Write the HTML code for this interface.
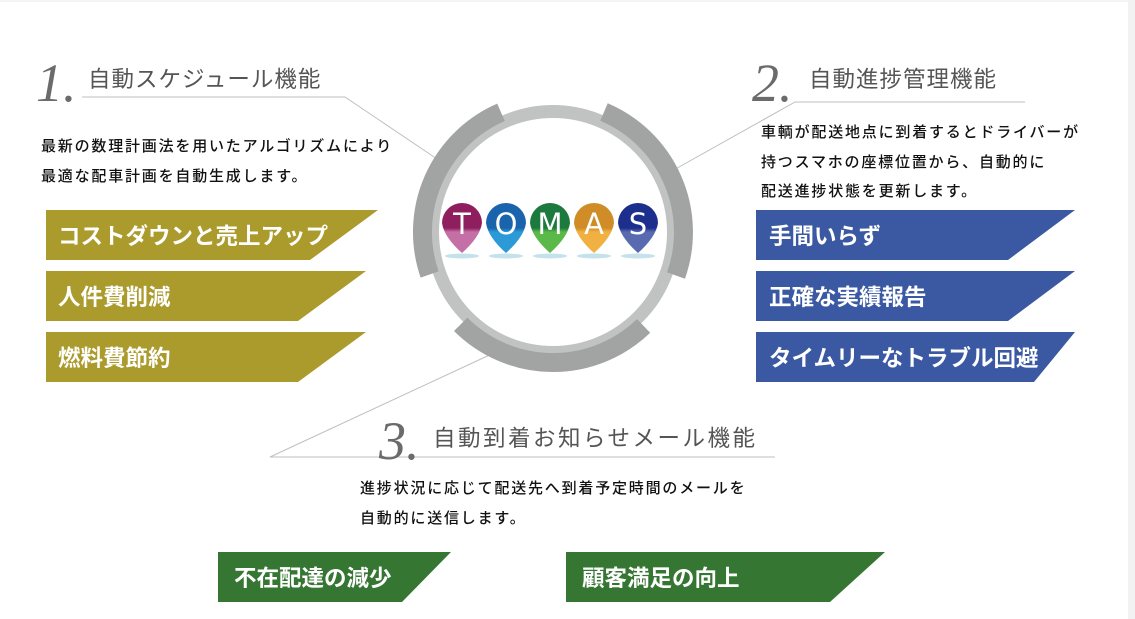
<!DOCTYPE html>
<html><head><meta charset="utf-8"><style>
html,body{margin:0;padding:0;}
body{width:1135px;height:619px;position:relative;background:#fff;overflow:hidden;font-family:"Liberation Sans","Noto Sans CJK JP",sans-serif;}
.edge{position:absolute;left:1128px;top:0;width:7px;height:619px;background:#f2f2f2;}
.edgeT{position:absolute;left:0;top:0;width:1135px;height:2px;background:#f4f4f4;}
.num{position:absolute;font-family:"Liberation Serif",serif;font-style:italic;font-size:54px;color:#6b6b6b;line-height:1;}
.ttl{position:absolute;font-size:22.5px;color:#555;line-height:1;white-space:nowrap;letter-spacing:1px;}
.body{position:absolute;font-size:15px;color:#111;line-height:29.5px;white-space:nowrap;letter-spacing:1.8px;font-weight:500;}
.bt{position:absolute;color:#fff;font-weight:bold;font-size:22.5px;line-height:1;white-space:nowrap;}
</style></head><body>
<div class="edgeT"></div><div class="edge"></div>
<svg width="1135" height="619" style="position:absolute;left:0;top:0">
<g stroke="#bfbfbf" stroke-width="1" fill="none">
<polyline points="82,97 345,97 443,163"/>
<polyline points="1025,102 795,102 663,176"/>
<polyline points="775,457 270,457 496,352"/>
</g>
<circle cx="553" cy="232" r="120.5" fill="#fff" stroke="#c1c3c3" stroke-width="13"/>
<g fill="none" stroke="#a2a3a3" stroke-width="19">
<path d="M 429.6 274.5 A 130.5 130.5 0 0 1 501 112.3"/>
<path d="M 604 112 A 130.5 130.5 0 0 1 676 275.6"/>
<path d="M 643.6 325.9 A 130.5 130.5 0 0 1 460.7 324.3"/>
</g>
<g font-family="DejaVu Sans, sans-serif" font-size="29" fill="#fff" text-anchor="middle">
<defs>
<linearGradient id="g1" x1="0" y1="0" x2="0" y2="1"><stop offset="0.5" stop-color="#8e1e5e"/><stop offset="0.58" stop-color="#c46fa5"/></linearGradient>
<linearGradient id="g2" x1="0" y1="0" x2="0" y2="1"><stop offset="0.5" stop-color="#1a63ad"/><stop offset="0.58" stop-color="#2b9ad6"/></linearGradient>
<linearGradient id="g3" x1="0" y1="0" x2="0" y2="1"><stop offset="0.5" stop-color="#1d7a3e"/><stop offset="0.58" stop-color="#5ab948"/></linearGradient>
<linearGradient id="g4" x1="0" y1="0" x2="0" y2="1"><stop offset="0.5" stop-color="#cf8c27"/><stop offset="0.58" stop-color="#f0b142"/></linearGradient>
<linearGradient id="g5" x1="0" y1="0" x2="0" y2="1"><stop offset="0.5" stop-color="#1c2f8c"/><stop offset="0.58" stop-color="#5a6ab0"/></linearGradient>
</defs>
<g fill="#b6dbe8" opacity="0.8">
<ellipse cx="462" cy="256" rx="17" ry="2.5"/><ellipse cx="506" cy="256" rx="17" ry="2.5"/><ellipse cx="550" cy="256" rx="17" ry="2.5"/><ellipse cx="594" cy="256" rx="17" ry="2.5"/><ellipse cx="638" cy="256" rx="17" ry="2.5"/>
</g>
<path d="M442 223 A20 20 0 1 1 482 223 Q480 237 462 253 Q444 237 442 223Z" fill="url(#g1)"/>
<path d="M486 223 A20 20 0 1 1 526 223 Q524 237 506 253 Q488 237 486 223Z" fill="url(#g2)"/>
<path d="M530 223 A20 20 0 1 1 570 223 Q568 237 550 253 Q532 237 530 223Z" fill="url(#g3)"/>
<path d="M574 223 A20 20 0 1 1 614 223 Q612 237 594 253 Q576 237 574 223Z" fill="url(#g4)"/>
<path d="M618 223 A20 20 0 1 1 658 223 Q656 237 638 253 Q620 237 618 223Z" fill="url(#g5)"/>
<text x="462" y="234">T</text><text x="506" y="234">O</text><text x="550" y="234">M</text><text x="594" y="234">A</text><text x="638" y="234">S</text>
</g>
<g fill="#ab9a2c">
<polygon points="46,210 378,210 310,260 46,260"/>
<polygon points="46,271 366,271 298,321 46,321"/>
<polygon points="46,332 366,332 298,382 46,382"/>
</g>
<g fill="#3b59a3">
<polygon points="756,210 1075,210 1008,260 756,260"/>
<polygon points="756,271 1075,271 1008,321 756,321"/>
<polygon points="756,332 1075,332 1034,382 756,382"/>
</g>
<g fill="#367633">
<polygon points="218,552 451,552 402,602 218,602"/>
<polygon points="566,552 885,552 830,602 566,602"/>
</g>
</svg>
<div class="num" style="left:36px;top:56px">1.</div>
<div class="ttl" style="left:88px;top:69px">自動スケジュール機能</div>
<div class="num" style="left:752px;top:56px">2.</div>
<div class="ttl" style="left:809px;top:69px">自動進捗管理機能</div>
<div class="num" style="left:379px;top:414px">3.</div>
<div class="ttl" style="left:433px;top:428px;letter-spacing:2.5px">自動到着お知らせメール機能</div>
<div class="body" style="left:41px;top:132px">最新の数理計画法を用いたアルゴリズムにより<br>最適な配車計画を自動生成します。</div>
<div class="body" style="left:761px;top:118px">車輌が配送地点に到着するとドライバーが<br>持つスマホの座標位置から、自動的に<br>配送進捗状態を更新します。</div>
<div class="body" style="left:360px;top:474px">進捗状況に応じて配送先へ到着予定時間のメールを<br>自動的に送信します。</div>
<div class="bt" style="left:58px;top:226px">コストダウンと売上アップ</div>
<div class="bt" style="left:58px;top:287px">人件費削減</div>
<div class="bt" style="left:58px;top:348px">燃料費節約</div>
<div class="bt" style="left:769px;top:226px">手間いらず</div>
<div class="bt" style="left:769px;top:287px">正確な実績報告</div>
<div class="bt" style="left:769px;top:348px">タイムリーなトラブル回避</div>
<div class="bt" style="left:234px;top:568px">不在配達の減少</div>
<div class="bt" style="left:582px;top:568px">顧客満足の向上</div>
</body></html>
